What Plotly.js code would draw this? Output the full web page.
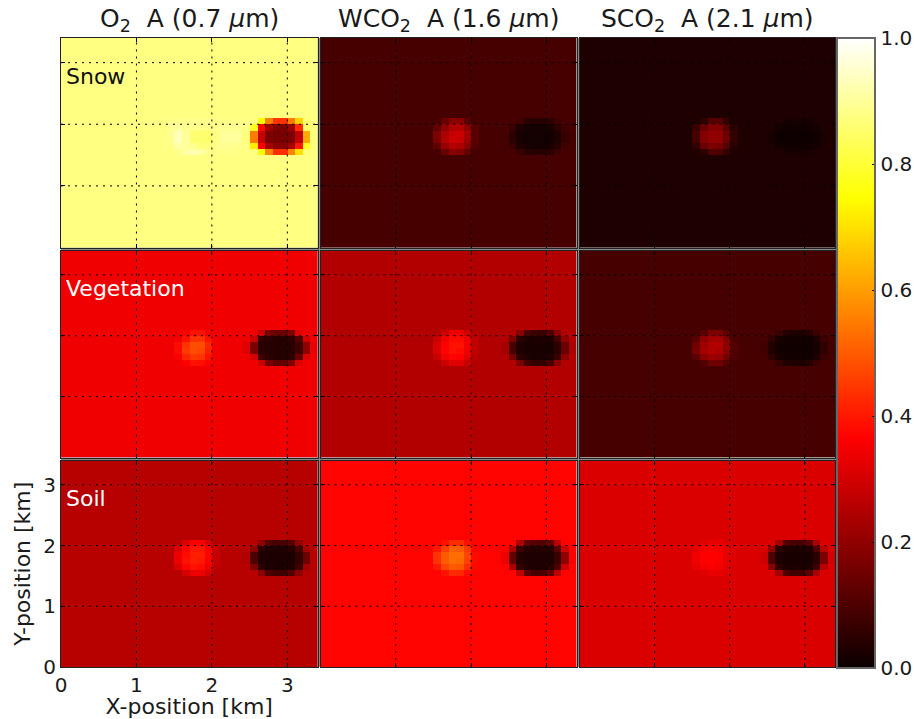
<!DOCTYPE html>
<html>
<head>
<meta charset="utf-8">
<script src="https://cdn.plot.ly/plotly-3.0.1.min.js"></script>
<style>html,body{margin:0;padding:0;background:#fff}#c{width:914px;height:719px}</style>
</head>
<body>
<div id="c"></div>
<script>
// Values. Each patch: rows y-index 20 down to 15, columns x-index 14..33. Everything else = base.
const columnTitles = ["O<sub>2</sub>&nbsp; A (0.7 <i>μ</i>m)", "WCO<sub>2</sub>&nbsp; A (1.6 <i>μ</i>m)", "SCO<sub>2</sub>&nbsp; A (2.1 <i>μ</i>m)"];
const surfaceLabels = ["Snow", "Vegetation", "Soil"];
const labelColors = ["#111111", "#ffffff", "#ffffff"];
const axisTicks = [0, 1, 2, 3];
const colorTicks = [0, 0.2, 0.4, 0.6, 0.8, 1];
const hotStops = [[0, "#0b0000"], [0.365, "#ff0000"], [0.746, "#ffff00"], [1, "#ffffff"]];
const bases = [[0.875, 0.09, 0.03], [0.342, 0.25, 0.09], [0.258, 0.37, 0.31]];

const snowO2 = [
[.885,.885,.885,.885,.885,.885,.885,.88,.88,.88,.88,.875,.75,.555,.44,.44,.55,.68,.87,.87],
[.89,.90,.89,.885,.88,.88,.885,.89,.89,.89,.88,.78,.37,.22,.17,.17,.22,.43,.85,.87],
[.89,.93,.90,.86,.855,.855,.875,.90,.90,.90,.87,.55,.28,.17,.16,.16,.17,.27,.62,.87],
[.89,.93,.90,.86,.855,.855,.875,.90,.90,.90,.87,.55,.28,.17,.16,.16,.17,.28,.62,.87],
[.88,.91,.90,.89,.87,.87,.88,.89,.89,.885,.88,.72,.36,.23,.19,.19,.23,.40,.78,.87],
[.875,.885,.91,.92,.91,.885,.88,.88,.88,.88,.875,.875,.75,.56,.43,.43,.56,.70,.87,.87]];
const snowWCO2 = [
[.09,.09,.14,.19,.19,.12,.09,.09,.09,.09,.09,.09,.08,.05,.04,.04,.05,.08,.09,.09],
[.09,.13,.20,.25,.25,.20,.12,.09,.09,.09,.09,.07,.03,.02,.015,.015,.02,.05,.08,.09],
[.09,.17,.24,.28,.29,.23,.12,.09,.09,.09,.085,.05,.02,.012,.012,.012,.012,.03,.065,.085],
[.09,.17,.25,.29,.28,.22,.12,.09,.09,.09,.085,.05,.02,.012,.012,.012,.012,.03,.065,.085],
[.09,.13,.21,.25,.24,.19,.11,.09,.09,.09,.09,.07,.03,.02,.015,.015,.02,.04,.08,.09],
[.09,.09,.14,.19,.18,.13,.09,.09,.09,.09,.09,.09,.07,.045,.04,.04,.05,.075,.09,.09]];
const snowSCO2 = [
[.03,.03,.05,.11,.11,.06,.03,.03,.03,.03,.03,.03,.03,.02,.02,.02,.02,.03,.03,.03],
[.03,.07,.14,.18,.18,.12,.05,.03,.03,.03,.03,.03,.015,.008,.008,.008,.008,.015,.03,.03],
[.03,.09,.18,.20,.20,.15,.06,.03,.03,.03,.03,.02,.005,.005,.005,.005,.005,.01,.022,.03],
[.03,.09,.18,.20,.20,.15,.06,.03,.03,.03,.03,.02,.005,.005,.005,.005,.005,.01,.022,.03],
[.03,.06,.14,.17,.16,.11,.045,.03,.03,.03,.03,.03,.015,.008,.008,.008,.008,.015,.03,.03],
[.03,.03,.05,.10,.10,.06,.03,.03,.03,.03,.03,.03,.03,.02,.02,.02,.02,.03,.03,.03]];
const vegO2 = [
[.342,.342,.36,.39,.39,.35,.342,.342,.342,.342,.342,.342,.29,.16,.14,.14,.17,.32,.342,.342],
[.342,.35,.39,.44,.44,.39,.345,.342,.342,.342,.342,.29,.06,.05,.04,.04,.05,.11,.30,.342],
[.342,.38,.44,.48,.48,.42,.35,.342,.342,.342,.32,.17,.05,.04,.04,.04,.04,.08,.20,.335],
[.342,.38,.45,.48,.47,.41,.35,.342,.342,.342,.32,.17,.05,.04,.04,.04,.04,.08,.20,.335],
[.342,.36,.42,.45,.44,.39,.345,.342,.342,.342,.342,.30,.08,.05,.04,.04,.05,.14,.32,.342],
[.342,.342,.365,.39,.385,.365,.342,.342,.342,.342,.342,.342,.29,.16,.13,.13,.17,.31,.342,.342]];
const vegWCO2 = [
[.25,.25,.29,.34,.34,.29,.25,.25,.25,.25,.25,.25,.19,.09,.07,.07,.10,.19,.25,.25],
[.25,.29,.35,.38,.38,.34,.27,.25,.25,.25,.25,.17,.05,.03,.025,.025,.03,.09,.20,.25],
[.25,.31,.36,.39,.39,.35,.27,.25,.25,.25,.23,.09,.03,.02,.02,.02,.02,.05,.14,.24],
[.25,.31,.37,.39,.38,.34,.27,.25,.25,.25,.23,.09,.03,.02,.02,.02,.02,.05,.14,.24],
[.25,.28,.35,.37,.36,.32,.26,.25,.25,.25,.25,.16,.05,.03,.02,.025,.03,.07,.20,.25],
[.25,.25,.29,.32,.32,.28,.25,.25,.25,.25,.25,.25,.17,.08,.06,.06,.09,.19,.25,.25]];
const vegSCO2 = [
[.09,.09,.12,.17,.17,.12,.09,.09,.09,.09,.09,.09,.07,.035,.03,.03,.04,.075,.09,.09],
[.09,.12,.20,.23,.23,.18,.10,.09,.09,.09,.09,.06,.02,.012,.01,.01,.012,.03,.075,.09],
[.09,.15,.22,.25,.25,.20,.11,.09,.09,.09,.08,.035,.012,.008,.008,.008,.008,.02,.055,.085],
[.09,.16,.23,.25,.24,.19,.11,.09,.09,.09,.08,.035,.012,.008,.008,.008,.008,.02,.055,.085],
[.09,.12,.19,.22,.21,.16,.10,.09,.09,.09,.09,.055,.02,.012,.01,.01,.012,.03,.075,.09],
[.09,.09,.11,.15,.15,.11,.09,.09,.09,.09,.09,.09,.065,.035,.03,.03,.04,.07,.09,.09]];
const soilO2 = [
[.258,.258,.31,.36,.36,.30,.258,.258,.258,.258,.258,.258,.20,.11,.09,.09,.11,.21,.258,.258],
[.258,.31,.37,.40,.40,.36,.28,.258,.258,.258,.258,.19,.05,.03,.03,.03,.04,.09,.23,.258],
[.258,.34,.38,.41,.41,.37,.28,.258,.258,.258,.25,.10,.03,.025,.025,.025,.025,.06,.15,.258],
[.258,.34,.39,.41,.40,.36,.28,.258,.258,.258,.25,.10,.03,.025,.025,.025,.025,.06,.15,.258],
[.258,.31,.37,.39,.38,.34,.27,.258,.258,.258,.258,.18,.05,.03,.025,.025,.035,.08,.23,.258],
[.258,.258,.30,.34,.34,.30,.258,.258,.258,.258,.258,.258,.19,.10,.08,.08,.11,.20,.258,.258]];
const soilWCO2 = [
[.37,.37,.39,.43,.43,.39,.37,.37,.37,.37,.37,.37,.25,.13,.11,.11,.13,.27,.37,.37],
[.37,.40,.46,.51,.50,.45,.375,.37,.37,.37,.37,.24,.07,.04,.035,.035,.04,.12,.29,.37],
[.37,.44,.50,.53,.53,.47,.38,.37,.37,.37,.34,.13,.04,.03,.03,.03,.03,.07,.20,.36],
[.37,.44,.50,.53,.52,.46,.38,.37,.37,.37,.34,.13,.04,.03,.03,.03,.03,.07,.20,.36],
[.37,.40,.47,.50,.49,.43,.375,.37,.37,.37,.37,.24,.06,.035,.03,.03,.04,.10,.29,.37],
[.37,.37,.39,.43,.42,.385,.37,.37,.37,.37,.37,.37,.27,.12,.09,.10,.13,.27,.37,.37]];
const soilSCO2 = [
[.31,.31,.32,.335,.33,.315,.31,.31,.31,.31,.31,.31,.23,.11,.09,.09,.12,.24,.31,.31],
[.31,.325,.35,.36,.35,.325,.31,.31,.31,.31,.31,.21,.05,.03,.025,.025,.03,.10,.26,.31],
[.31,.345,.365,.365,.36,.33,.315,.31,.31,.31,.29,.10,.03,.02,.02,.02,.02,.05,.17,.30],
[.31,.345,.365,.37,.36,.33,.315,.31,.31,.31,.29,.10,.03,.02,.02,.02,.02,.05,.17,.30],
[.31,.33,.35,.36,.35,.325,.31,.31,.31,.31,.31,.19,.05,.03,.025,.025,.03,.08,.26,.31],
[.31,.31,.32,.335,.335,.32,.31,.31,.31,.31,.31,.31,.23,.10,.08,.08,.12,.24,.31,.31]];

const patches = [[snowO2, snowWCO2, snowSCO2], [vegO2, vegWCO2, vegSCO2], [soilO2, soilWCO2, soilSCO2]];
const cellCentres = Array.from({length: 34}, (_, i) => (i + 0.5) / 10);

// Layout geometry (pixels), converted to paper fractions
const W = 914, H = 719;
const colPx = [[61, 317.5], [320.5, 576.5], [579.5, 835]];
const rowPx = [[38, 247.5], [250.5, 457.5], [460.5, 667]];

function fullGrid(base, patch) {
  const z = cellCentres.map(() => cellCentres.map(() => base));
  patch.forEach((row, r) => row.forEach((v, c) => { z[20 - r][14 + c] = v; }));
  return z;
}

const traces = [], shapes = [], annotations = [];
const layout = {
  width: W, height: H,
  margin: {l: 0, r: 0, t: 0, b: 0, autoexpand: false},
  paper_bgcolor: "#fff", plot_bgcolor: "#fff",
  font: {family: "DejaVu Sans", size: 20, color: "#1a1a1a"},
  showlegend: false
};

for (let r = 0; r < 3; r++) {
  for (let c = 0; c < 3; c++) {
    const n = r * 3 + c + 1, sfx = n === 1 ? "" : n;
    const isCorner = r === 2 && c === 0;
    const common = {
      range: [0, 3.4], tickvals: axisTicks, ticktext: axisTicks.map(String),
      ticks: "inside", ticklen: 4, tickwidth: 1, tickcolor: "#000",
      showline: true, linecolor: "#222", linewidth: 1, mirror: "allticks",
      showgrid: false, zeroline: false, showticklabels: isCorner, layer: "above traces",
      tickfont: {size: 20, color: "#1a1a1a"}
    };
    layout["xaxis" + sfx] = Object.assign({}, common, {
      domain: [colPx[c][0] / W, colPx[c][1] / W], anchor: "y" + sfx
    });
    layout["yaxis" + sfx] = Object.assign({}, common, {
      domain: [1 - rowPx[r][1] / H, 1 - rowPx[r][0] / H], anchor: "x" + sfx
    });
    if (isCorner) {
      layout["xaxis" + sfx].title = {text: "X-position [km]", font: {size: 22, color: "#1a1a1a"}, standoff: 3};
      layout["yaxis" + sfx].title = {text: "Y-position [km]", font: {size: 22, color: "#1a1a1a"}, standoff: 6};
    }
    const t = {
      type: "heatmap", x: cellCentres, y: cellCentres, z: fullGrid(bases[r][c], patches[r][c]),
      xaxis: "x" + sfx, yaxis: "y" + sfx, zmin: 0, zmax: 1, colorscale: hotStops,
      showscale: n === 1, hoverinfo: "skip", zsmooth: false
    };
    if (n === 1) {
      t.colorbar = {
        x: 837 / W, xanchor: "left", xpad: 0, ypad: 0, thickness: 38, thicknessmode: "pixels",
        y: 1 - 38 / H, yanchor: "top", len: (668 - 38) / H, lenmode: "fraction",
        tickvals: colorTicks, ticktext: colorTicks.map(v => v.toFixed(1)),
        ticks: "inside", ticklen: 4, tickcolor: "#000",
        outlinecolor: "#666", outlinewidth: 2, tickfont: {size: 20, color: "#1a1a1a"}
      };
    }
    traces.push(t);
    const dot = {color: "#000", width: 1, dash: "2px,5px"};
    axisTicks.slice(1).forEach(v => {
      shapes.push({type: "line", xref: "x" + sfx, yref: "y" + sfx, x0: v, x1: v, y0: 0, y1: 3.4, line: dot, layer: "above"});
      shapes.push({type: "line", xref: "x" + sfx, yref: "y" + sfx, x0: 0, x1: 3.4, y0: v, y1: v, line: dot, layer: "above"});
    });
  }
  const s = r === 0 ? "" : r * 3 + 1;
  annotations.push({
    xref: "x" + s, yref: "y" + s,
    x: 0.04, y: 2.78, xanchor: "left", yanchor: "middle", showarrow: false,
    text: surfaceLabels[r], font: {size: 22, color: labelColors[r]}
  });
}
// Grey separators in the gaps between the panels
const separator = {type: "rect", xref: "paper", yref: "paper", layer: "below", fillcolor: "#8a8a8a", line: {width: 0}};
[[colPx[0][1], colPx[1][0]], [colPx[1][1], colPx[2][0]], [colPx[2][1], 837]].forEach(g => {
  shapes.push(Object.assign({}, separator, {x0: g[0] / W, x1: g[1] / W, y0: 1 - rowPx[2][1] / H, y1: 1 - rowPx[0][0] / H}));
});
[[rowPx[0][1], rowPx[1][0]], [rowPx[1][1], rowPx[2][0]]].forEach(g => {
  shapes.push(Object.assign({}, separator, {x0: colPx[0][0] / W, x1: colPx[2][1] / W, y0: 1 - g[1] / H, y1: 1 - g[0] / H}));
});
columnTitles.forEach((txt, c) => {
  annotations.push({
    xref: "paper", yref: "paper", x: (colPx[c][0] + colPx[c][1]) / 2 / W, y: 1 - 38.5 / H,
    xanchor: "center", yanchor: "bottom", showarrow: false, text: txt,
    font: {size: 25, color: "#1a1a1a"}
  });
});
layout.shapes = shapes;
layout.annotations = annotations;
Plotly.newPlot("c", traces, layout, {displayModeBar: false, staticPlot: true});
</script>
</body>
</html>
